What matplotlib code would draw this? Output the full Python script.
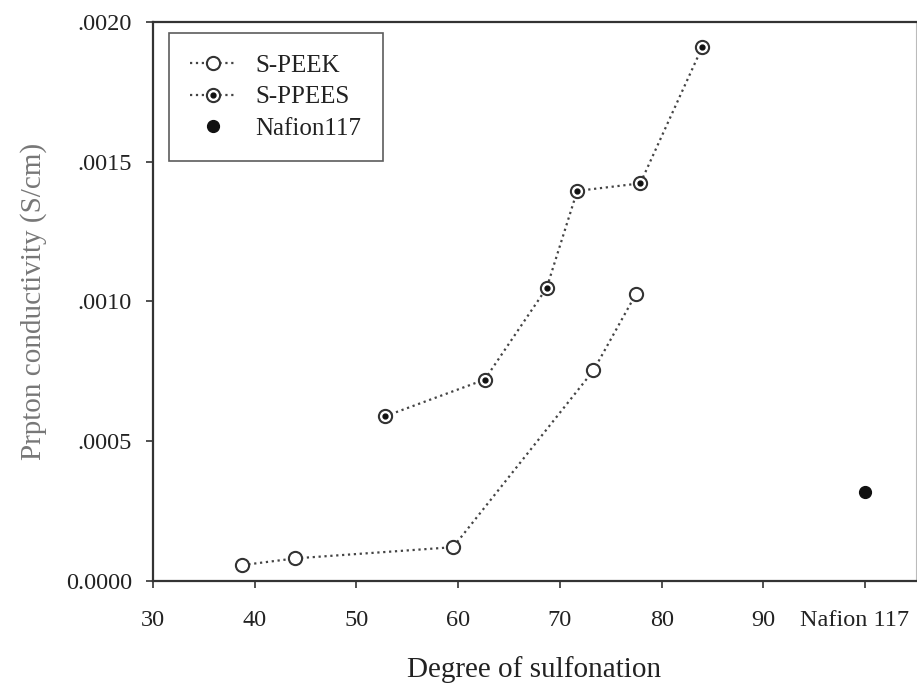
import matplotlib
matplotlib.use("Agg")
import matplotlib.pyplot as plt
from matplotlib.legend_handler import HandlerTuple
from matplotlib.transforms import ScaledTranslation

# Degree of sulfonation (x) and proton conductivity in S/cm (y)
speek_ds = [38.8, 44.0, 59.5, 73.3, 77.5]
speek_cond = [0.000057, 0.000081, 0.000121, 0.000753, 0.001028]

sppees_ds = [52.8, 62.6, 68.7, 71.7, 77.9, 84.0]
sppees_cond = [0.000589, 0.000720, 0.001048, 0.001395, 0.001422, 0.001910]

nafion_pos = [100.0]
nafion_cond = [0.000320]

x_ticks = [30, 40, 50, 60, 70, 80, 90, 100]
x_tick_labels = ["30", "40", "50", "60", "70", "80", "90", "Nafion 117"]
y_ticks = [0.0, 0.0005, 0.0010, 0.0015, 0.0020]
y_tick_labels = ["0.0000", ".0005", ".0010", ".0015", ".0020"]

plt.rcParams["font.family"] = ["Liberation Serif", "DejaVu Serif"]

fig = plt.figure(figsize=(9.17, 6.85), dpi=100)
ax = fig.add_axes([0.1668, 0.1518, 0.8321, 0.8165])

line_col = "#444444"
ms = 9.5

peek_line, = ax.plot(speek_ds, speek_cond, linestyle=":", color=line_col, linewidth=1.6,
                     marker="o", markersize=ms, markerfacecolor="white",
                     markeredgecolor="#333333", markeredgewidth=1.5)

ppees_line, = ax.plot(sppees_ds, sppees_cond, linestyle=":", color=line_col, linewidth=1.6,
                      marker="o", markersize=ms, markerfacecolor="white",
                      markeredgecolor="#333333", markeredgewidth=1.5)
ppees_dot, = ax.plot(sppees_ds, sppees_cond, linestyle="none", marker="o",
                     markersize=3.5, color="#111111")

naf, = ax.plot(nafion_pos, nafion_cond, linestyle="none", marker="o",
               markersize=8.5, color="#111111")

ax.set_xlim(30, 105)
ax.set_ylim(0, 0.0020)
ax.set_xticks(x_ticks)
ax.set_xticklabels(x_tick_labels)
ax.set_yticks(y_ticks)
ax.set_yticklabels(y_tick_labels)

ax.tick_params(axis="both", direction="out", length=5, width=1.2, color="#333333",
               labelsize=17.5, labelcolor="#222222")
ax.tick_params(axis="x", pad=16)
ax.tick_params(axis="y", pad=10)

# keep the last category label inside the figure
shift = ScaledTranslation(-11 / 100, 0, fig.dpi_scale_trans)
last = ax.get_xticklabels()[-1]
last.set_transform(last.get_transform() + shift)

for side in ("left", "bottom", "top"):
    ax.spines[side].set_linewidth(1.6)
    ax.spines[side].set_color("#333333")
ax.spines["right"].set_linewidth(0.8)
ax.spines["right"].set_color("#bbbbbb")

ax.set_xlabel("Degree of sulfonation", fontsize=21, color="#222222", labelpad=18)
ax.set_ylabel("Prpton conductivity (S/cm)", fontsize=21, color="#777777", labelpad=14)

leg = ax.legend([peek_line, (ppees_line, ppees_dot), naf],
                ["S-PEEK", "S-PPEES", "Nafion117"],
                handler_map={tuple: HandlerTuple(ndivide=1)},
                loc="upper left", bbox_to_anchor=(169 / 917, 1 - 33 / 685),
                bbox_transform=fig.transFigure,
                fontsize=18, frameon=True, fancybox=False, edgecolor="#333333",
                handlelength=1.8, handletextpad=0.8,
                borderpad=0.85, labelspacing=0.36, borderaxespad=0)
leg.get_frame().set_linewidth(1.2)
for t in leg.get_texts():
    t.set_color("#222222")

fig.savefig("out.png", dpi=100, facecolor="white")
